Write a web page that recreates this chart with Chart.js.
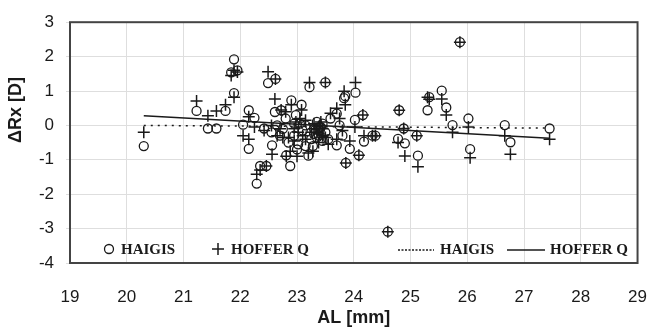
<!DOCTYPE html>
<html>
<head>
<meta charset="utf-8">
<script src="https://cdn.jsdelivr.net/npm/chart.js@4"></script>
<style>
  html, body { margin: 0; padding: 0; background: #fff; }
  #wrap { width: 671px; height: 327px; }
</style>
</head>
<body>
<div id="wrap"><canvas id="myChartRx"></canvas></div>
<script>
// axial length of each eye [mm]
const al = [
  20.3, 21.23, 21.43, 21.58, 21.74, 21.84, 21.89, 21.95, 21.89, 22.05,
  22.15, 22.15, 22.25, 22.29, 22.35, 22.46, 22.42, 22.49, 22.62, 22.56,
  22.61, 22.72, 22.55, 22.65, 22.7, 22.75, 22.81, 22.88, 22.9, 22.85,
  22.95, 22.98, 23.08, 23.02, 23.05, 23.1, 23.2, 23.22, 23.15, 23.25,
  23.3, 23.35, 23.38, 23.42, 23.45, 23.5, 23.5, 23.55, 23.59, 23.7,
  23.7, 23.75, 23.8, 23.83, 23.85, 23.86, 23.93, 24.03, 24.02, 24.09,
  24.16, 24.18, 24.33, 24.38, 24.6, 24.8, 24.88, 24.78, 24.9, 25.11,
  25.13, 25.3, 25.33, 25.55, 25.63, 25.74, 25.87, 26.02, 26.05, 26.66,
  26.76, 27.45, 22.8, 23.0, 23.28, 23.4, 23.3, 23.35, 23.4, 22.95,
  23.15, 23.45
];
// refraction error, Haigis formula [D]
const haigis = [
  -0.6, 0.42, -0.09, -0.09, 0.42, 1.54, 1.92, 1.6, 0.94, 0.02,
  0.44, -0.68, 0.22, -1.69, -1.18, -1.18, -0.09, 1.23, 1.35, -0.58,
  0.39, 0.44, -0.2, 0.0, -0.3, -0.1, -0.87, -1.18, 0.73, -0.5,
  -0.3, 0.3, 0.6, -0.55, 0.05, -0.15, -0.88, 1.11, -0.6, -0.4,
  -0.1, 0.1, -0.3, -0.05, -0.45, 1.25, -0.2, -0.4, 0.2, 0.34,
  -0.58, 0.0, -0.3, 0.79, 0.85, -1.09, -0.68, 0.95, 0.16, -0.87,
  0.3, -0.47, -0.3, -0.3, -3.09, 0.44, -0.09, -0.39, -0.52, -0.3,
  -0.88, 0.44, 0.82, 1.01, 0.52, 0.01, 2.42, 0.2, -0.69, 0.01,
  -0.49, -0.09, 0.2, -0.7, -0.6, -0.15, -0.25, -0.35, -0.05, 0.05,
  0.0, 0.05
];
// refraction error, Hoffer Q formula [D]
const hofferQ = [
  -0.2, 0.71, 0.28, 0.42, 0.6, 1.45, 1.6, 1.55, 0.82, -0.3,
  0.25, -0.4, -0.05, -1.42, -1.3, -1.18, -0.15, 1.56, 1.35, -0.84,
  0.77, 0.45, 0.0, -0.3, -0.1, -0.35, -0.9, -0.75, 0.6, -0.35,
  -0.45, 0.1, 0.45, -0.2, 0.2, -0.3, -0.8, 1.25, -0.4, -0.2,
  0.05, -0.1, -0.5, 0.1, -0.3, 1.25, -0.35, -0.55, 0.35, 0.5,
  -0.4, 0.2, -0.15, 0.99, 0.6, -1.09, -0.45, 1.25, -0.05, -0.87,
  0.3, -0.3, -0.3, -0.3, -3.09, 0.44, -0.09, -0.5, -0.89, -0.3,
  -1.2, 0.82, 0.76, 0.77, 0.3, -0.2, 2.42, -0.05, -0.94, -0.3,
  -0.84, -0.4, 0.4, -0.9, -0.75, 0.0, -0.1, -0.2, -0.25, -0.1,
  0.15, -0.1
];
// trend lines (end points)
const trendX = [20.3, 27.45];
const haigisTrend = [0.0, -0.08];
const hofferTrend = [0.28, -0.37];

const xTicks = [19, 20, 21, 22, 23, 24, 25, 26, 27, 28, 29];
const yTicks = [-4, -3, -2, -1, 0, 1, 2, 3];

const pts = (xs, ys) => xs.map((x, i) => ({ x: x, y: ys[i] }));

const ink = "#1a1a1a";
const sans = "'Liberation Sans', Arial, sans-serif";
const serif = "'Liberation Serif', 'Times New Roman', serif";

// frame, legend and axis titles
const decor = {
  id: "decor",
  afterDatasetsDraw(chart) {
    const c = chart.ctx;
    const a = chart.chartArea;
    c.save();
    c.strokeStyle = "#444";
    c.lineWidth = 2;
    c.strokeRect(a.left, a.top, a.right - a.left, a.bottom - a.top);

    // legend inside the plot
    const ly = 249;
    c.strokeStyle = ink;
    c.fillStyle = ink;
    c.lineWidth = 1.3;
    c.beginPath();
    c.arc(109, ly, 4.5, 0, Math.PI * 2);
    c.stroke();
    c.lineWidth = 1.5;
    c.beginPath();
    c.moveTo(212, ly); c.lineTo(224, ly);
    c.moveTo(218, ly - 6); c.lineTo(218, ly + 6);
    c.stroke();
    c.lineWidth = 1.3;
    c.setLineDash([2, 1.5]);
    c.beginPath();
    c.moveTo(398, ly + 1); c.lineTo(434, ly + 1);
    c.stroke();
    c.setLineDash([]);
    c.beginPath();
    c.moveTo(507, ly + 1); c.lineTo(545, ly + 1);
    c.stroke();
    c.font = "bold 15px " + serif;
    c.textBaseline = "middle";
    c.textAlign = "left";
    c.fillText("HAIGIS", 121, ly + 1);
    c.fillText("HOFFER Q", 231, ly + 1);
    c.fillText("HAIGIS", 440, ly + 1);
    c.fillText("HOFFER Q", 550, ly + 1);

    // axis titles
    c.font = "bold 18px " + sans;
    c.textAlign = "center";
    c.fillText("AL [mm]", (a.left + a.right) / 2, 318);
    c.translate(16, 110);
    c.rotate(-Math.PI / 2);
    c.fillText("\u0394Rx [D]", 0, 0);
    c.restore();
  }
};

const config = {
  type: "scatter",
  data: {
    datasets: [
      {
        label: "HAIGIS",
        data: pts(al, haigis),
        pointStyle: "circle",
        pointRadius: 4.5,
        borderColor: ink,
        backgroundColor: "rgba(0,0,0,0)",
        borderWidth: 1.3
      },
      {
        label: "HOFFER Q",
        data: pts(al, hofferQ),
        pointStyle: "cross",
        pointRadius: 6,
        borderColor: ink,
        backgroundColor: ink,
        borderWidth: 1.5
      },
      {
        type: "line",
        label: "HAIGIS trend",
        data: pts(trendX, haigisTrend),
        borderColor: ink,
        borderWidth: 1.5,
        borderDash: [2, 5],
        pointRadius: 0,
        fill: false
      },
      {
        type: "line",
        label: "HOFFER Q trend",
        data: pts(trendX, hofferTrend),
        borderColor: ink,
        borderWidth: 1.5,
        pointRadius: 0,
        fill: false
      }
    ]
  },
  options: {
    responsive: true,
    maintainAspectRatio: false,
    animation: false,
    events: [],
    layout: { padding: { top: 19, right: 19, left: 0, bottom: 0 } },
    plugins: {
      legend: { display: false },
      tooltip: { enabled: false }
    },
    scales: {
      x: {
        type: "linear",
        min: 19,
        max: 29,
        afterBuildTicks: (s) => { s.ticks = xTicks.map(v => ({ value: v })); },
        afterFit: (s) => { s.height = 64; },
        grid: { color: "#dedede", lineWidth: 1, drawTicks: false },
        border: { display: false },
        ticks: {
          color: ink,
          padding: 24,
          maxRotation: 0,
          font: { family: sans, size: 17 }
        }
      },
      y: {
        type: "linear",
        min: -4,
        max: 3,
        afterBuildTicks: (s) => { s.ticks = yTicks.map(v => ({ value: v })); },
        afterFit: (s) => { s.width = 70; },
        grid: { color: "#dedede", lineWidth: 1, tickLength: 4 },
        border: { display: false },
        ticks: {
          color: ink,
          padding: 12,
          font: { family: sans, size: 17 }
        }
      }
    }
  },
  plugins: [decor]
};

const myChartRx = new Chart(document.querySelector("#myChartRx").getContext("2d"), config);
</script>
</body>
</html>
